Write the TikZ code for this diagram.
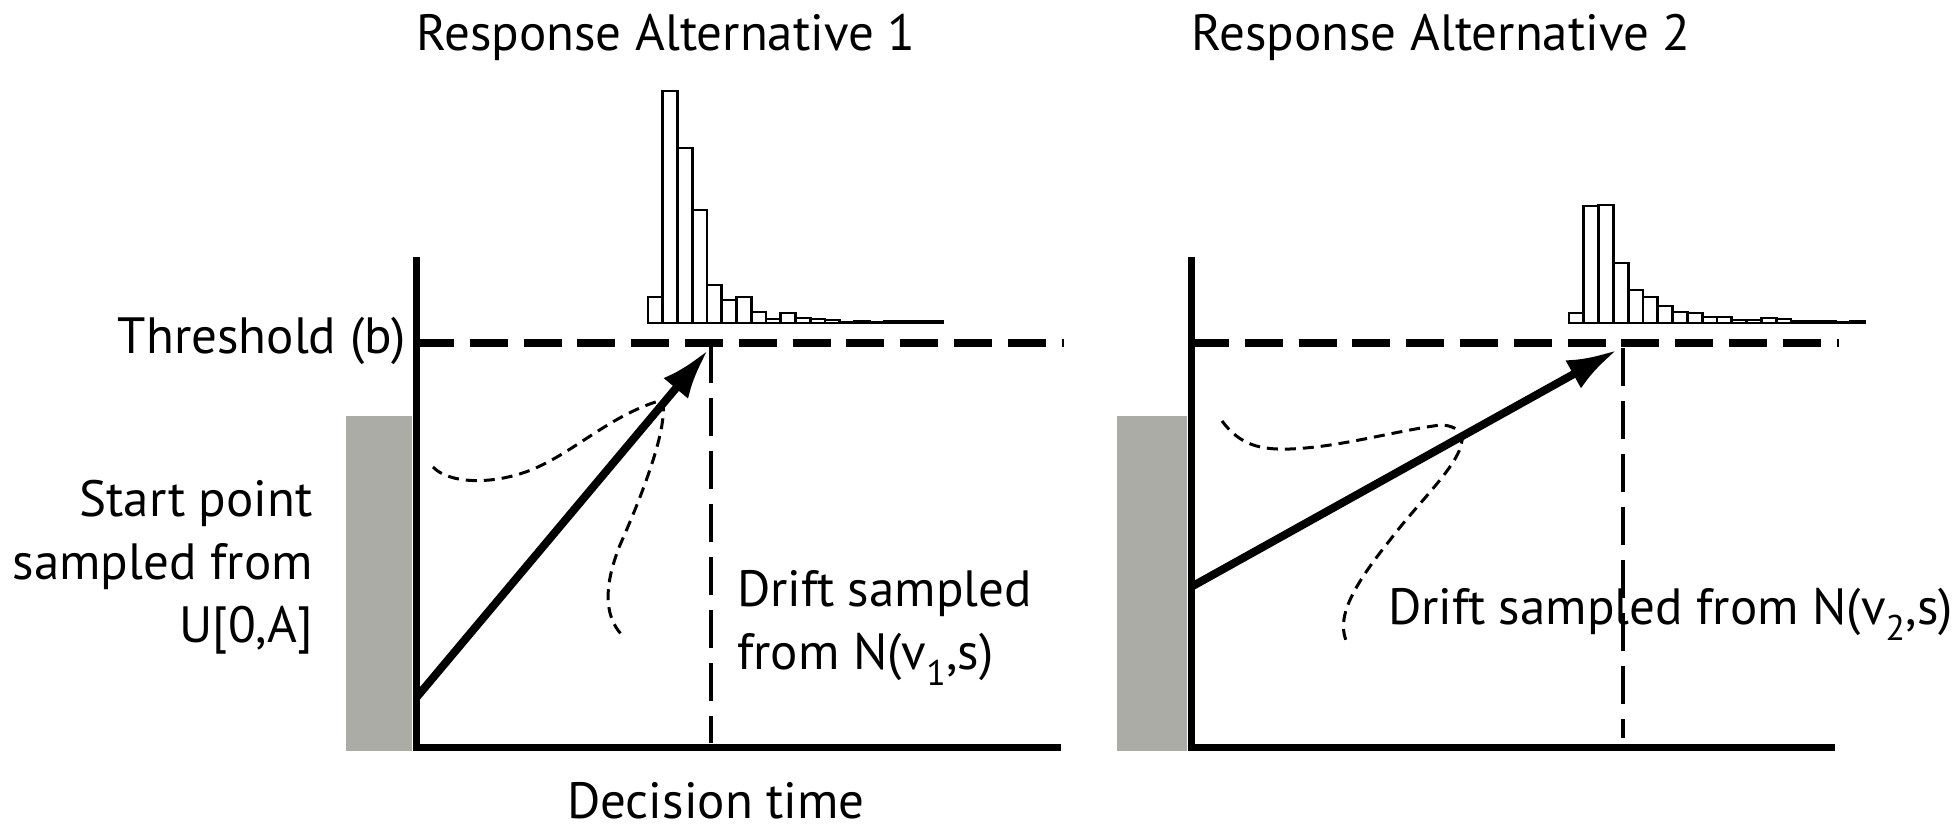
\documentclass[tikz,border=0pt]{standalone}
\usepackage{fontspec}
\setmainfont{PT Sans}
\usetikzlibrary{arrows.meta}

\definecolor{startgray}{RGB}{172,172,167}

\tikzset{
  axis/.style={line width=7pt, line join=miter},
  threshold/.style={line width=8pt, dash pattern=on 38pt off 15.8pt},
  rtline/.style={line width=4pt, dash pattern=on 38pt off 15pt},
  bar/.style={draw, line width=2.7pt, fill=white},
  noise/.style={line width=3pt, dash pattern=on 11pt off 7pt},
  drift/.style={line width=8pt, -{Latex[length=50pt,width=32pt]}},
  lbl/.style={font=\fontsize{51}{63}\selectfont, inner sep=0pt}
}

\begin{document}
\begin{tikzpicture}[x=1pt,y=-1pt]
\useasboundingbox (0,0) rectangle (1960,830);

% start point ranges
\fill[startgray] (346,416) rectangle (412,751);
\fill[startgray] (1117,416) rectangle (1187,751);

% histograms of finishing times
\foreach \h [count=\i from 0] in {26,232,175,113,38,23,26,11,4,10,5,4,3,1,2,1,1.5,1.5,1.5,1.5}
\draw[bar] ({648+14.75*\i},323) rectangle ++(14.75,-\h);
\foreach \h [count=\i from 0] in {10,117,118,60,33,26,17,11,10,6,6,3,3,5,4,2,1.5,1.5,0.5,2}
\draw[bar] ({1569+14.8*\i},323) rectangle ++(14.8,-\h);

% thresholds
\draw[threshold] (416,343) -- (1064,343);
\draw[threshold] (1191,343) -- (1839,343);

% decision times
\coordinate (rt1) at (711,345);
\coordinate (rt1end) at (711,743);
\coordinate (rt2) at (1623,348);
\coordinate (rt2end) at (1623,738);
\draw[rtline] (rt1) -- (rt1end);
\draw[rtline] (rt2) -- (rt2end);

% drift variability
\draw[noise] (433,467) .. controls (448,483) and (490,486) .. (531,470)
  .. controls (575,452) and (610,415) .. (662,400)
  .. controls (670,425) and (640,500) .. (620,545)
  .. controls (602,590) and (605,620) .. (625,638);
\draw[noise] (1222,421) .. controls (1240,445) and (1260,450) .. (1290,449)
  .. controls (1340,447) and (1390,432) .. (1440,425)
  .. controls (1452,425) and (1460,430) .. (1462,436)
  .. controls (1465,460) and (1420,500) .. (1390,540)
  .. controls (1350,590) and (1335,620) .. (1348,645);

% accumulators
\coordinate (start1) at (416,698);
\coordinate (hit1) at (708,350);
\coordinate (start2) at (1191,587);
\coordinate (hit2) at (1617,350);
\draw[drift] (start1) -- (hit1);
\draw[drift] (start2) -- (hit2);

% axes
\coordinate (top1) at (416,257);
\coordinate (end1) at (1061,747);
\coordinate (top2) at (1191,257);
\coordinate (end2) at (1835,747);
\draw[axis] (top1) |- (end1);
\draw[axis] (top2) |- (end2);

% labels (base of a multi-line node = its last line)
\node[lbl, anchor=base west] (title1) at (416,50) {Response Alternative 1};
\node[lbl, anchor=base west] (title2) at (1191,50) {Response Alternative 2};
\node[lbl, anchor=base east] (thrlbl) at (406,353) {Threshold (b)};
\node[lbl, anchor=base east, align=right] (startlbl) at (313,642) {Start point\\sampled from\\U[0,A]};
\node[lbl, anchor=base west, align=left] (drift1lbl) at (737,669) {Drift sampled\\from N(v\textsubscript{1},s)};
\node[lbl, anchor=base west] (drift2lbl) at (1388,624) {Drift sampled from N(v\textsubscript{2},s)};
\node[lbl, anchor=base] (timelbl) at (716,818) {Decision time};

\end{tikzpicture}
\end{document}
